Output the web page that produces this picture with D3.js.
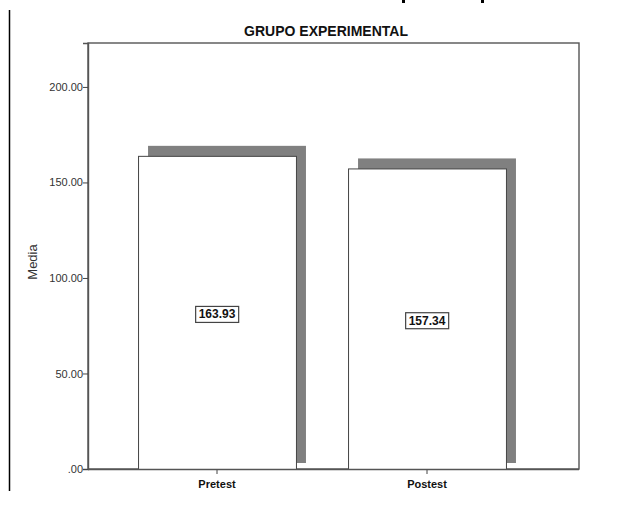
<!DOCTYPE html>
<html><head><meta charset="utf-8">
<script src="https://cdn.jsdelivr.net/npm/d3@7"></script>
<style>body{margin:0;background:#fff}svg{display:block}</style>
</head><body>
<svg id="c" width="633" height="508"></svg>
<script>
const categories = ["Pretest", "Postest"];
const values = [163.93, 157.34];
const valueLabels = ["163.93", "157.34"];
const yTicks = [0, 50, 100, 150, 200];
const yTickLabels = [".00", "50.00", "100.00", "150.00", "200.00"];
const title = "GRUPO EXPERIMENTAL";
const yTitle = "Media";

const svg = d3.select("#c");
const font = "'Liberation Sans', Arial, sans-serif";
const L = 88, R = 579, T = 43, B = 469;

const y = d3.scaleLinear().domain([0, 223]).range([B, T]);
const x = d3.scaleBand().domain(categories).range([112, 532]).paddingInner(0.248).paddingOuter(0.124);
const sh = 10;

// frame
svg.append("rect").attr("x", L).attr("y", T).attr("width", R - L).attr("height", B - T)
  .attr("fill", "none").attr("stroke", "#555").attr("stroke-width", 1.4);

// left vertical line
svg.append("line").attr("x1", 9.5).attr("x2", 9.5).attr("y1", 10).attr("y2", 491)
  .attr("stroke", "#000").attr("stroke-width", 1.5);

// remnants of a cut-off heading line at the top edge (glyph descenders)
[402, 481].forEach(px => svg.append("rect").attr("x", px).attr("y", 0)
  .attr("width", 3).attr("height", 3).attr("fill", "#000"));

// shadows
svg.selectAll(".shadow").data(values).join("rect")
  .attr("x", (d, i) => x(categories[i]) + sh)
  .attr("y", d => y(d) - sh)
  .attr("width", x.bandwidth())
  .attr("height", d => (y(0) - 6) - (y(d) - sh))
  .attr("fill", "#808080");

// bars
svg.selectAll(".bar").data(values).join("rect")
  .attr("x", (d, i) => x(categories[i]) + 0.5)
  .attr("y", d => y(d) + 0.5)
  .attr("width", x.bandwidth())
  .attr("height", d => y(0) - y(d))
  .attr("fill", "#fff").attr("stroke", "#444").attr("stroke-width", 1);

// y axis
const yAxis = d3.axisLeft(y).tickValues(yTicks).tickSize(5).tickFormat((d, i) => yTickLabels[i]);
const gy = svg.append("g").attr("transform", `translate(${L},0)`).call(yAxis);
gy.select(".domain").attr("stroke", "#555").attr("stroke-width", 1.4);
gy.selectAll(".tick line").attr("stroke", "#444");
gy.selectAll("text").attr("font-family", font).attr("font-size", 11).attr("fill", "#333").attr("x", -5);

// x axis
const xAxis = d3.axisBottom(x).tickSize(5).tickSizeOuter(0);
const gx = svg.append("g").attr("transform", `translate(0,${B})`).call(xAxis);
gx.select(".domain").remove();
gx.selectAll(".tick line").attr("stroke", "#444");
gx.selectAll("text").attr("font-family", font).attr("font-size", 11).attr("font-weight", "bold")
  .attr("fill", "#111").attr("dy", "0.9em").attr("y", 9);
svg.append("line").attr("x1", L).attr("x2", R).attr("y1", B + 0.5).attr("y2", B + 0.5)
  .attr("stroke", "#555").attr("stroke-width", 1.4);

// value labels
values.forEach((d, i) => {
  const cx = x(categories[i]) + x.bandwidth() / 2;
  const cy = (y(d) + y(0)) / 2 + 2;
  const g = svg.append("g");
  const t = g.append("text").attr("x", cx).attr("y", cy).attr("text-anchor", "middle")
    .attr("dominant-baseline", "central").attr("font-family", font).attr("font-weight", "bold")
    .attr("font-size", 12).attr("fill", "#111").text(valueLabels[i]);
  const bb = t.node().getBBox();
  g.insert("rect", "text").attr("x", bb.x - 3).attr("y", bb.y - 1)
    .attr("width", bb.width + 6).attr("height", bb.height + 2)
    .attr("fill", "#fff").attr("stroke", "#444").attr("stroke-width", 1.2);
});

// title
svg.append("text").attr("x", 326).attr("y", 36).attr("text-anchor", "middle")
  .attr("font-family", font).attr("font-weight", "bold").attr("font-size", 14).attr("fill", "#111").text(title);

// y title
svg.append("text").attr("transform", `translate(37,262) rotate(-90)`).attr("text-anchor", "middle")
  .attr("font-family", font).attr("font-size", 13).attr("fill", "#333").text(yTitle);
</script>
</body></html>
